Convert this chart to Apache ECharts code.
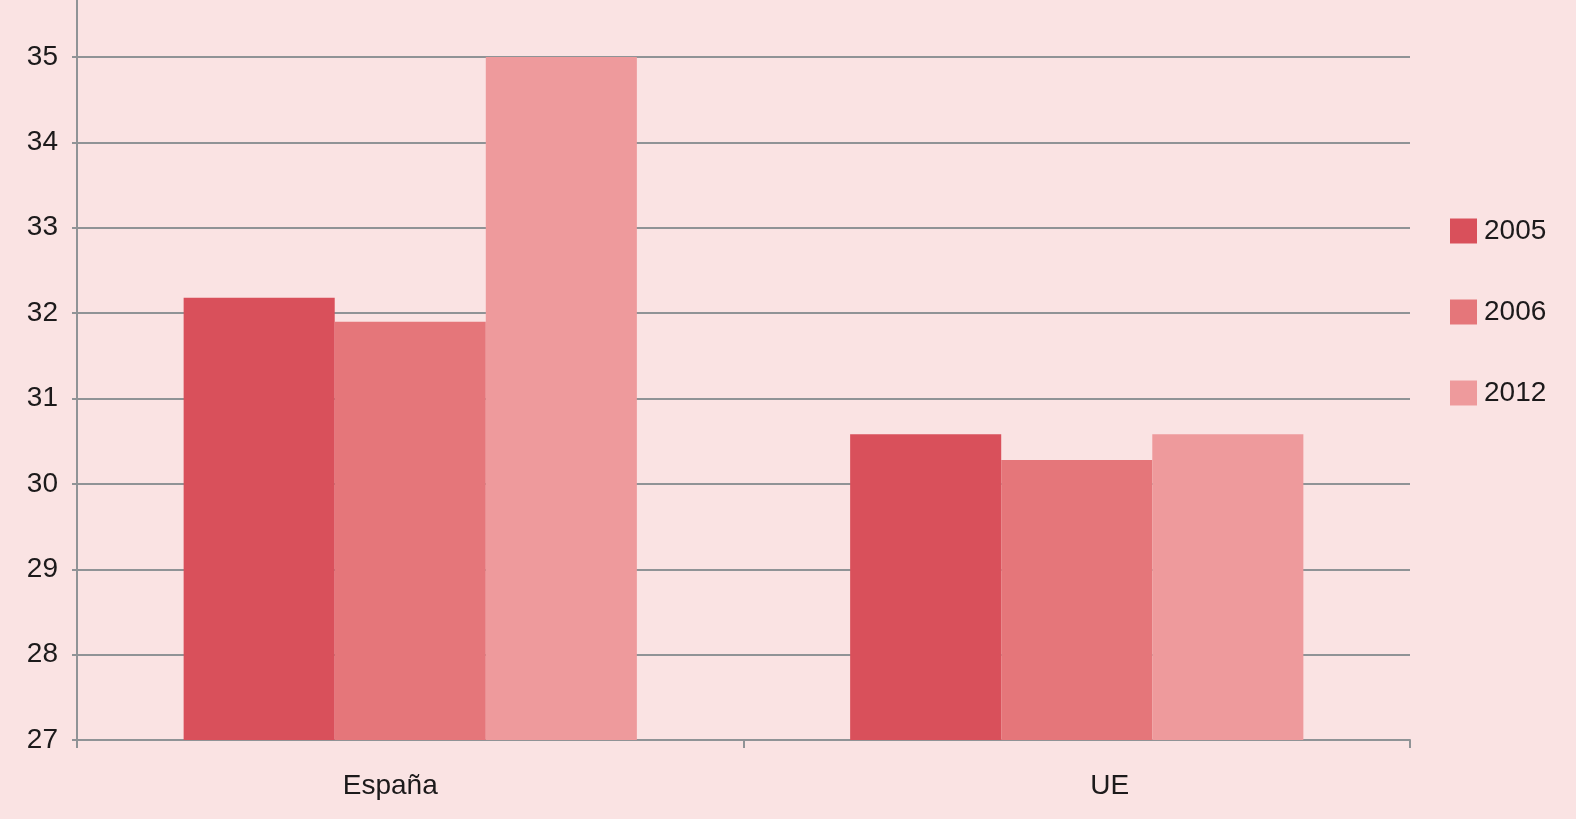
<!DOCTYPE html>
<html>
<head>
<meta charset="utf-8">
<script src="https://cdn.jsdelivr.net/npm/echarts@6/dist/echarts.min.js"></script>
<style>
  html, body { margin: 0; padding: 0; background: #fae3e3; }
  #chart { width: 1576px; height: 819px; }
</style>
</head>
<body>
<div id="chart"></div>
<script>
// datos
const categories = ['España', 'UE']
const years = ['2005', '2006', '2012']
const values2005 = [32.18, 30.58]
const values2006 = [31.9, 30.28]
const values2012 = [35.0, 30.58]
const yTicks = [27, 28, 29, 30, 31, 32, 33, 34, 35]

const colors = ['#d9505b', '#e5767a', '#ee9a9c']
const axisGray = '#8f9396'
const textColor = '#1c1a1b'
const font = 'Liberation Sans, Arial, Helvetica, sans-serif'

const chartDom = document.getElementById('chart')
const myChart = echarts.init(chartDom)

const seriesData = [values2005, values2006, values2012]

const option = {
  backgroundColor: '#fae3e3',
  animation: false,
  textStyle: { fontFamily: font, color: textColor },
  grid: { left: 77, right: 166, top: 57, bottom: 79 },
  legend: {
    orient: 'vertical',
    left: 1445,
    top: 212,
    itemWidth: 27,
    itemHeight: 25,
    itemGap: 53,
    icon: 'rect',
    textStyle: { fontSize: 28, color: textColor, fontFamily: font, padding: [0, 0, 0, 2] },
    data: years
  },
  xAxis: {
    type: 'category',
    data: categories,
    axisLine: { lineStyle: { color: axisGray, width: 2 } },
    axisTick: { show: true, length: 8, lineStyle: { color: axisGray, width: 2 } },
    axisLabel: {
      fontSize: 28, color: textColor, fontFamily: font, margin: 32,
      // las etiquetas no quedan centradas en su categoría en el original
      formatter: (v, i) => `{c${i}|${v}}`,
      rich: {
        c0: { fontSize: 28, color: textColor, fontFamily: font, padding: [0, 40, 0, 0] },
        c1: { fontSize: 28, color: textColor, fontFamily: font, padding: [0, 0, 0, 66] }
      }
    }
  },
  yAxis: {
    type: 'value',
    min: yTicks[0],
    max: yTicks[yTicks.length - 1],
    interval: 1,
    axisLine: { show: true, lineStyle: { color: axisGray, width: 2 } },
    axisTick: { show: true, length: 5, lineStyle: { color: axisGray, width: 2 } },
    axisLabel: { fontSize: 28, color: textColor, fontFamily: font, margin: 19 },
    splitLine: { lineStyle: { color: axisGray, width: 2 } }
  },
  series: years.map((y, i) => ({
    name: y,
    type: 'bar',
    data: seriesData[i],
    itemStyle: { color: colors[i] },
    barGap: '0%',
    barCategoryGap: '32%'
  }))
}

myChart.setOption(option)

// el eje vertical sube hasta el borde superior
const topPx = myChart.convertToPixel({ yAxisIndex: 0 }, yTicks[yTicks.length - 1])
myChart.setOption({
  graphic: [{
    type: 'line',
    shape: { x1: 77, y1: 0, x2: 77, y2: topPx },
    style: { stroke: axisGray, lineWidth: 2 },
    z: 10
  }]
})
</script>
</body>
</html>
